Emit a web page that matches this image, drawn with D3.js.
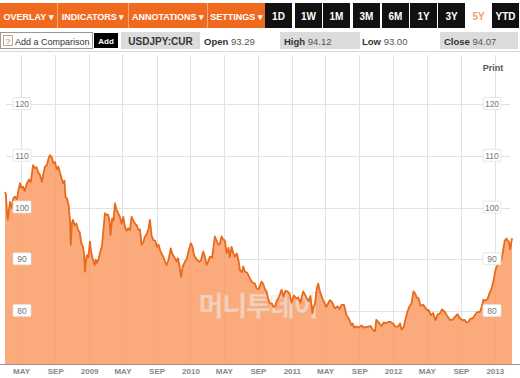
<!DOCTYPE html>
<html><head><meta charset="utf-8">
<script src="https://cdn.jsdelivr.net/npm/d3@7"></script>
<style>body{margin:0;background:#fff;overflow:hidden}</style>
</head><body><svg id="c" width="520" height="378"></svg>
<script>
const dates = ["2008-03-04","2008-03-07","2008-03-12","2008-03-14","2008-03-18","2008-03-22","2008-03-28","2008-04-03","2008-04-09","2008-04-16","2008-04-22","2008-04-27","2008-05-02","2008-05-08","2008-05-14","2008-05-22","2008-05-29","2008-06-05","2008-06-13","2008-06-19","2008-06-25","2008-07-01","2008-07-08","2008-07-15","2008-07-20","2008-07-26","2008-08-02","2008-08-08","2008-08-13","2008-08-19","2008-08-25","2008-08-31","2008-09-06","2008-09-12","2008-09-18","2008-09-23","2008-09-29","2008-10-04","2008-10-08","2008-10-13","2008-10-19","2008-10-24","2008-10-27","2008-10-31","2008-11-04","2008-11-10","2008-11-16","2008-11-22","2008-11-28","2008-12-04","2008-12-10","2008-12-14","2008-12-17","2008-12-20","2008-12-24","2008-12-29","2009-01-04","2009-01-09","2009-01-15","2009-01-21","2009-01-25","2009-01-29","2009-02-04","2009-02-09","2009-02-16","2009-02-22","2009-02-27","2009-03-03","2009-03-10","2009-03-15","2009-03-19","2009-03-25","2009-03-30","2009-04-04","2009-04-09","2009-04-15","2009-04-21","2009-04-28","2009-05-04","2009-05-10","2009-05-16","2009-05-22","2009-05-28","2009-06-03","2009-06-09","2009-06-15","2009-06-21","2009-06-27","2009-07-03","2009-07-09","2009-07-15","2009-07-21","2009-07-27","2009-08-03","2009-08-08","2009-08-14","2009-08-20","2009-08-27","2009-09-02","2009-09-08","2009-09-15","2009-09-25","2009-10-01","2009-10-07","2009-10-14","2009-10-22","2009-10-28","2009-11-06","2009-11-12","2009-11-17","2009-11-22","2009-11-28","2009-12-04","2009-12-12","2009-12-18","2009-12-26","2010-01-02","2010-01-08","2010-01-13","2010-01-17","2010-01-24","2010-02-02","2010-02-08","2010-02-16","2010-02-22","2010-02-28","2010-03-06","2010-03-12","2010-03-20","2010-03-25","2010-03-30","2010-04-05","2010-04-11","2010-04-17","2010-04-23","2010-04-29","2010-05-05","2010-05-11","2010-05-18","2010-05-22","2010-05-29","2010-06-04","2010-06-10","2010-06-17","2010-06-24","2010-06-28","2010-07-05","2010-07-10","2010-07-16","2010-07-24","2010-08-03","2010-08-12","2010-08-21","2010-08-27","2010-09-03","2010-09-14","2010-09-20","2010-09-26","2010-10-02","2010-10-08","2010-10-14","2010-10-22","2010-10-26","2010-11-02","2010-11-07","2010-11-15","2010-11-25","2010-12-03","2010-12-09","2010-12-16","2010-12-24","2010-12-31","2011-01-08","2011-01-18","2011-01-24","2011-02-01","2011-02-11","2011-02-17","2011-02-23","2011-03-02","2011-03-09","2011-03-16","2011-03-20","2011-03-25","2011-04-01","2011-04-06","2011-04-13","2011-04-24","2011-05-05","2011-05-10","2011-05-18","2011-05-25","2011-06-05","2011-06-14","2011-06-22","2011-06-29","2011-07-08","2011-07-17","2011-07-26","2011-08-04","2011-08-08","2011-08-14","2011-08-22","2011-08-30","2011-09-09","2011-09-18","2011-09-25","2011-10-03","2011-10-12","2011-10-21","2011-10-28","2011-11-01","2011-11-08","2011-11-20","2011-11-28","2011-12-06","2011-12-14","2011-12-22","2012-01-01","2012-01-08","2012-01-19","2012-01-26","2012-01-31","2012-02-08","2012-02-14","2012-02-21","2012-02-28","2012-03-08","2012-03-14","2012-03-20","2012-03-26","2012-04-01","2012-04-09","2012-04-18","2012-04-25","2012-05-03","2012-05-08","2012-05-16","2012-05-24","2012-06-01","2012-06-10","2012-06-17","2012-06-25","2012-07-04","2012-07-13","2012-07-23","2012-08-01","2012-08-10","2012-08-20","2012-08-28","2012-09-07","2012-09-14","2012-09-21","2012-09-28","2012-10-05","2012-10-14","2012-10-21","2012-10-30","2012-11-08","2012-11-14","2012-11-21","2012-11-26","2012-12-06","2012-12-14","2012-12-20","2012-12-28","2013-01-04","2013-01-10","2013-01-18","2013-01-24","2013-01-31","2013-02-06","2013-02-12","2013-02-17","2013-02-21","2013-02-25","2013-02-28","2013-03-04"];
const values = [103.0,102.6,98.5,97.6,99.5,101.1,99.9,101.8,102.1,101.6,103.5,104.7,103.8,104.0,103.2,104.7,105.4,104.9,108.2,107.6,107.8,106.9,106.3,105.0,106.5,107.9,108.2,109.5,110.1,109.8,108.6,108.8,107.4,107.9,106.7,105.8,104.7,105.2,102.0,101.8,100.5,97.6,92.8,97.0,97.6,96.5,96.9,95.7,95.2,93.1,92.4,91.0,87.6,89.5,90.8,90.4,93.4,91.2,89.9,88.9,89.9,89.3,90.0,91.2,92.5,96.0,98.9,98.6,98.6,97.6,94.7,97.9,97.5,100.8,99.7,98.9,98.3,96.9,98.2,96.3,95.5,96.0,95.6,98.2,97.5,96.9,96.6,95.7,95.8,92.8,93.3,94.4,94.8,95.9,97.6,94.6,93.7,93.6,92.4,92.8,91.5,90.5,89.6,88.9,89.9,92.1,91.0,90.2,89.6,90.2,88.9,86.6,88.6,89.5,90.0,91.8,93.1,92.5,91.0,90.5,89.9,89.5,89.8,91.5,90.5,88.9,89.6,90.5,90.3,92.4,94.4,93.6,92.8,93.0,94.4,93.8,93.6,91.2,92.2,90.4,92.4,91.2,90.5,91.1,89.5,87.9,87.5,88.6,87.6,87.4,86.3,85.5,85.3,84.4,84.2,85.7,85.2,84.2,83.8,82.4,81.5,81.4,80.8,80.9,81.8,82.6,84.1,82.8,83.9,83.8,83.3,81.6,83.0,82.4,82.6,81.6,83.8,83.2,82.5,81.9,82.9,79.6,80.8,81.3,84.4,85.3,83.6,82.1,80.8,81.3,82.1,81.8,80.5,80.9,80.4,81.2,81.2,79.2,78.4,77.3,77.6,76.8,77.0,76.8,77.2,76.8,76.9,77.0,77.1,76.3,76.1,78.3,77.9,77.1,77.8,77.6,77.9,77.9,77.6,77.0,77.0,77.6,76.4,76.9,78.3,79.8,80.8,81.6,83.8,83.4,82.6,82.5,81.0,81.2,80.7,80.1,80.2,79.2,79.6,78.2,79.4,79.5,80.3,79.9,79.1,78.3,78.3,78.8,79.4,78.6,78.2,78.3,77.8,77.9,78.5,78.6,79.2,79.8,79.8,80.6,82.2,82.0,82.3,83.6,84.2,86.0,88.1,88.8,90.1,89.6,91.7,93.6,94.0,93.5,93.4,91.9,92.7,94.1];
const yTicks = [80, 90, 100, 110, 120];
const xTickDates = ["2008-05-01","2008-09-01","2009-01-01","2009-05-01","2009-09-01","2010-01-01","2010-05-01","2010-09-01","2011-01-01","2011-05-01","2011-09-01","2012-01-01","2012-05-01","2012-09-01","2013-01-01"];
const menuLabels = ["OVERLAY","INDICATORS","ANNOTATIONS","SETTINGS"];
const rangeLabels = ["1D","1W","1M","3M","6M","1Y","3Y","5Y","YTD"];
const activeRange = "5Y";
const symbol = "USDJPY:CUR";
const quoteNames = ["Open","High","Low","Close"];
const quoteValues = ["93.29","94.12","93.00","94.07"];
const watermark = "머니투데이";

const FONT = "'Liberation Sans', Arial, sans-serif";
const ORANGE = "#ef6a1f";
const svg = d3.select("#c").style("font-family", FONT);
const parse = d3.timeParse("%Y-%m-%d");
const data = dates.map((d, i) => ({ date: parse(d), value: values[i] }));

// ---------- header ----------
const menuX = [0, 58, 129, 208], menuW = [57, 70, 78, 57];
svg.append("rect").attr("x", 0).attr("y", 3).attr("width", 266).attr("height", 25).attr("fill", ORANGE);
menuLabels.forEach((t, i) => {
  if (i > 0) svg.append("rect").attr("x", menuX[i] - 1).attr("y", 3).attr("width", 1).attr("height", 25).attr("fill", "#f7a57a");
  svg.append("text").attr("x", menuX[i] + menuW[i] / 2).attr("y", 19.5).attr("text-anchor", "middle")
    .attr("fill", "#fff").attr("font-size", 9).attr("font-weight", "bold").text(t + " \u25BE");
});
const rX = [265, 295, 323, 353, 382, 410, 438, 465, 492], rW = 27;
rangeLabels.forEach((t, i) => {
  const act = t === activeRange;
  svg.append("rect").attr("x", rX[i]).attr("y", 3).attr("width", rW).attr("height", 25)
    .attr("fill", act ? "#fff" : "#111");
  svg.append("text").attr("x", rX[i] + rW / 2).attr("y", 19.5).attr("text-anchor", "middle")
    .attr("fill", act ? "#f4a070" : "#fff").attr("font-size", 10).attr("font-weight", "bold").text(t);
});

// second row
svg.append("rect").attr("x", 0.5).attr("y", 32.5).attr("width", 92).attr("height", 16).attr("fill", "#fff").attr("stroke", "#999");
svg.append("rect").attr("x", 3.5).attr("y", 35.5).attr("width", 9).attr("height", 10).attr("fill", "#fff").attr("stroke", "#c98a5a").attr("stroke-width", 0.8);
svg.append("text").attr("x", 8).attr("y", 44).attr("text-anchor", "middle").attr("font-size", 8).attr("fill", "#b8703c").text("?");
svg.append("text").attr("x", 15).attr("y", 44.5).attr("font-size", 9).attr("fill", "#333").text("Add a Comparison");
svg.append("rect").attr("x", 94).attr("y", 33).attr("width", 24).attr("height", 15).attr("fill", "#000");
svg.append("text").attr("x", 106).attr("y", 44).attr("text-anchor", "middle").attr("font-size", 8).attr("font-weight", "bold").attr("fill", "#fff").text("Add");
svg.append("rect").attr("x", 121).attr("y", 32).attr("width", 79).attr("height", 17).attr("fill", "#dcdcdc");
svg.append("text").attr("x", 160.5).attr("y", 44.5).attr("text-anchor", "middle").attr("font-size", 10).attr("font-weight", "bold").attr("fill", "#333").text(symbol);
const qX = [204, 280, 362, 440], qW = [72, 80, 76, 78], qBg = [false, true, false, true];
quoteNames.forEach((n, i) => {
  if (qBg[i]) svg.append("rect").attr("x", qX[i]).attr("y", 32).attr("width", qW[i]).attr("height", 17).attr("fill", "#dcdcdc");
  const t = svg.append("text").attr("x", qX[i] + (qBg[i] ? 4 : 0)).attr("y", 44.5).attr("font-size", 9.5).attr("fill", "#333");
  t.append("tspan").attr("font-weight", "bold").text(n + " ");
  t.append("tspan").attr("fill", "#555").text(quoteValues[i]);
});
svg.append("rect").attr("x", 0).attr("y", 51).attr("width", 520).attr("height", 1).attr("fill", "#d8d8d8");

// ---------- chart ----------
const plotTop = 55, base = 364;
const x = d3.scaleTime().domain([parse("2008-03-04"), parse("2013-03-04")]).range([5, 512]);
const y = d3.scaleLinear().domain([80, 120]).range([311, 104]);

xTickDates.forEach(d => {
  const xx = Math.round(x(parse(d))) + 0.5;
  svg.append("line").attr("x1", xx).attr("x2", xx).attr("y1", plotTop).attr("y2", base).attr("stroke", "#e2e2e2");
});
yTicks.forEach(v => {
  const yy = Math.round(y(v)) + 0.5;
  svg.append("line").attr("x1", 6).attr("x2", 510).attr("y1", yy).attr("y2", yy).attr("stroke", "#e2e2e2");
});

const area = d3.area().x(d => x(d.date)).y0(base).y1(d => y(d.value));
const line = d3.line().x(d => x(d.date)).y(d => y(d.value));
svg.append("path").datum(data).attr("d", area).attr("fill", "#fbaa7b");

svg.append("clipPath").attr("id", "areaClip").append("path").datum(data).attr("d", area);
const inner = svg.append("g").attr("clip-path", "url(#areaClip)");
xTickDates.forEach(d => {
  const xx = Math.round(x(parse(d))) + 0.5;
  inner.append("line").attr("x1", xx).attr("x2", xx).attr("y1", plotTop).attr("y2", base).attr("stroke", "#f09a68").attr("stroke-opacity", 0.3);
});

svg.append("text").attr("x", 258).attr("y", 316).attr("text-anchor", "middle")
  .attr("font-family", "'Noto Sans CJK KR', sans-serif").attr("font-size", 27).attr("font-weight", "bold")
  .attr("fill", "#fff").attr("fill-opacity", 0.45).attr("stroke", "#d9c2b4").attr("stroke-width", 0.6).attr("stroke-opacity", 0.8)
  .attr("letter-spacing", -1).text(watermark);

svg.append("path").datum(data).attr("d", line).attr("fill", "none").attr("stroke", "#e86a1c").attr("stroke-width", 1.8).attr("stroke-linejoin", "round");

[22, 492].forEach(cx => {
  yTicks.forEach(v => {
    const yy = y(v);
    svg.append("rect").attr("x", cx - 9).attr("y", yy - 6.5).attr("width", 18).attr("height", 12)
      .attr("fill", "#fff").attr("stroke", "#e0e0e0").attr("stroke-width", 0.8).attr("rx", 1);
    svg.append("text").attr("x", cx).attr("y", yy + 3).attr("text-anchor", "middle")
      .attr("font-size", 8.5).attr("fill", "#777").text(v);
  });
});

const fmt = d => d.getMonth() === 0 ? d3.timeFormat("%Y")(d) : d3.timeFormat("%b")(d).toUpperCase();
const xAxis = d3.axisBottom(x).tickValues(xTickDates.map(parse)).tickFormat(fmt).tickSize(0).tickPadding(4);
const ax = svg.append("g").attr("transform", `translate(0,${base})`).call(xAxis);
ax.select(".domain").remove();
ax.selectAll("text").attr("font-family", FONT).attr("font-size", 8).attr("font-weight", "bold").attr("fill", "#888");
svg.append("rect").attr("x", 0).attr("y", base).attr("width", 520).attr("height", 1).attr("fill", "#999");

svg.append("text").attr("x", 493).attr("y", 71).attr("text-anchor", "middle").attr("font-size", 9)
  .attr("font-weight", "bold").attr("fill", "#555").text("Print");
</script></body></html>
